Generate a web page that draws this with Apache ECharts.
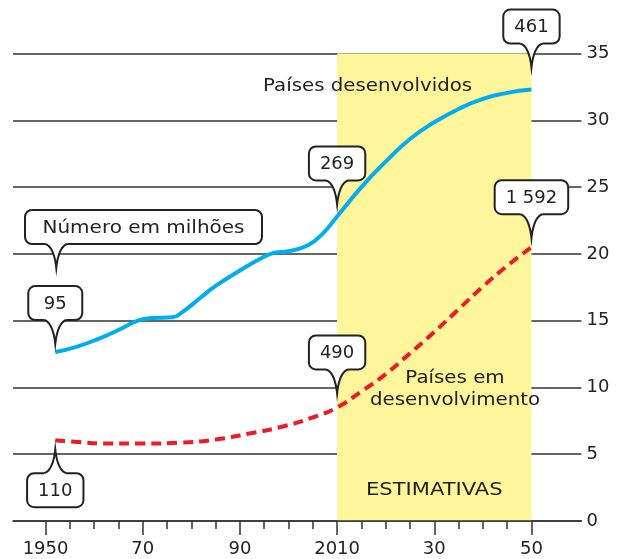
<!DOCTYPE html>
<html>
<head>
<meta charset="utf-8">
<script src="https://cdn.jsdelivr.net/npm/echarts@6/dist/echarts.min.js"></script>
<style>
  html, body { margin: 0; padding: 0; background: #fff; }
  #chart { width: 626px; height: 559px; }
</style>
</head>
<body>
<div id="chart"></div>
<script>
// Population (millions, scaled axis) — developed vs developing countries
const developedYears  = [1952, 1956, 1961, 1965, 1969, 1972, 1976, 1978, 1982, 1985, 1990, 1994, 1997, 2000, 2004, 2007, 2010, 2015, 2020, 2025, 2030, 2035, 2040, 2045, 2050];
const developedValues = [12.65, 13.0, 13.65, 14.3, 15.0, 15.2, 15.25, 15.6, 16.75, 17.6, 18.75, 19.6, 20.07, 20.2, 20.65, 21.5, 22.8, 25.0, 26.9, 28.6, 29.85, 30.85, 31.6, 32.05, 32.3];

const developingYears  = [1952, 1956, 1963, 1970, 1978, 1985, 1992, 1998, 2005, 2010, 2015, 2020, 2025, 2030, 2035, 2040, 2045, 2050];
const developingValues = [6.05, 5.93, 5.8, 5.8, 5.87, 6.1, 6.55, 7.0, 7.75, 8.5, 9.7, 11.0, 12.55, 14.15, 15.85, 17.55, 19.1, 20.5];

// Callout values (millions) at the marked years
const calloutYears       = [1952, 2010, 2050];
const developedCallouts  = ['95', '269', '461'];
const developingCallouts = ['110', '490', '1 592'];

// Axis ticks and labels
const minorYears      = [1950, 1955, 1960, 1965, 1970, 1975, 1980, 1985, 1990, 1995, 2000, 2005, 2010, 2015, 2020, 2025, 2030, 2035, 2040, 2045, 2050];
const majorYears      = [1950, 1970, 1990, 2010, 2030, 2050];
const majorYearLabels = ['1950', '70', '90', '2010', '30', '50'];

// Estimate period
const estimateStart = 2010;
const estimateEnd   = 2050;

const FONT = '"DejaVu Sans", Verdana, sans-serif';
const INK = '#222';

const pair = (xs, ys) => xs.map((x, i) => [x, ys[i]]);

const chart = echarts.init(document.getElementById('chart'), null, { renderer: 'canvas' });

const X_MIN = 1943.3, X_MAX = 2060.3;

chart.setOption({
  animation: false,
  grid: { left: 13, right: 44.5, top: 53.5, bottom: 38 },
  xAxis: [
    {
      type: 'value', min: X_MIN, max: X_MAX, position: 'bottom', z: 4,
      axisLine: { show: true, lineStyle: { color: '#333', width: 1.5 } },
      axisTick: { show: true, length: 14, customValues: majorYears, lineStyle: { color: '#333', width: 1.5 } },
      axisLabel: {
        show: true, customValues: majorYears, margin: 19,
        fontFamily: FONT, fontSize: 18, color: INK,
        formatter: v => majorYearLabels[majorYears.indexOf(Math.round(v))] || ''
      },
      splitLine: { show: false }
    },
    {
      type: 'value', min: X_MIN, max: X_MAX, position: 'bottom', z: 4,
      axisLine: { show: false },
      axisTick: { show: true, length: 8, customValues: minorYears, lineStyle: { color: '#333', width: 1.5 } },
      axisLabel: { show: false },
      splitLine: { show: false }
    }
  ],
  yAxis: {
    type: 'value', position: 'right', min: 0, max: 35, interval: 5, z: 1,
    axisLine: { show: false },
    axisTick: { show: false },
    axisLabel: { margin: 5, fontFamily: FONT, fontSize: 18, color: INK },
    splitLine: { show: true, lineStyle: { color: '#333', width: 1.5 } }
  },
  series: [
    {
      // estimate band
      type: 'line', data: [], z: 0, silent: true,
      markArea: {
        silent: true,
        itemStyle: { color: '#fff59b' },
        data: [[{ xAxis: estimateStart, yAxis: 0 }, { xAxis: estimateEnd, yAxis: 35 }]]
      }
    },
    {
      name: 'Países em desenvolvimento', type: 'line', z: 3,
      data: pair(developingYears, developingValues),
      smooth: true, showSymbol: false,
      lineStyle: { color: '#ec1c24', width: 4, type: [10, 6] }
    },
    {
      name: 'Países desenvolvidos', type: 'line', z: 3,
      data: pair(developedYears, developedValues),
      smooth: true, showSymbol: false,
      lineStyle: { color: '#00aeef', width: 4 }
    }
  ]
});

// ---- callout bubbles ----
const measure = (() => {
  const ctx = document.createElement('canvas').getContext('2d');
  ctx.font = '18px ' + FONT;
  return t => ctx.measureText(t).width;
})();

function bezierPoints(p0, p1, p2, p3, n) {
  const pts = [];
  for (let i = 0; i <= n; i++) {
    const t = i / n, u = 1 - t;
    pts.push([
      u*u*u*p0[0] + 3*u*u*t*p1[0] + 3*u*t*t*p2[0] + t*t*t*p3[0],
      u*u*u*p0[1] + 3*u*u*t*p1[1] + 3*u*t*t*p2[1] + t*t*t*p3[1]
    ]);
  }
  return pts;
}

// tip: pointer tip; dir: +1 pointer points down (box above), -1 points up (box below)
function bubble(text, tipX, tipY, dir, opts) {
  opts = opts || {};
  const sx = opts.scaleX || 1;
  const w = opts.width || Math.max(measure(text) * sx + 22, 54);
  const h = 34, ptrH = 24, half = 11;
  const cx = opts.boxCx == null ? tipX : opts.boxCx;
  const base = tipY - dir * ptrH;
  const top = dir > 0 ? base - h : base;
  const left = bezierPoints([tipX - half, base], [tipX - 4, base + dir * 2], [tipX - 1, tipY - dir * 10], [tipX, tipY], 12);
  const right = bezierPoints([tipX, tipY], [tipX + 1, tipY - dir * 10], [tipX + 4, base + dir * 2], [tipX + half, base], 12);
  const outline = left.concat(right.slice(1));
  return [
    { type: 'rect', z: 100, shape: { x: cx - w / 2, y: top, width: w, height: h, r: 7 },
      style: { fill: '#fff', stroke: INK, lineWidth: 2 } },
    { type: 'polygon', z: 101, shape: { points: outline.concat([[tipX + half, base - dir * 2], [tipX - half, base - dir * 2]]) },
      style: { fill: '#fff', stroke: null } },
    { type: 'polyline', z: 102, shape: { points: outline },
      style: { stroke: INK, lineWidth: 2, fill: null } },
    { type: 'text', z: 103, x: cx, y: top + h / 2 + 1, scaleX: sx,
      style: { text: text, font: '18px ' + FONT, fill: INK, align: 'center', verticalAlign: 'middle',
               textAlign: 'center', textVerticalAlign: 'middle' } }
  ];
}

const toPx = (x, y) => chart.convertToPixel({ xAxisIndex: 0, yAxisIndex: 0 }, [x, y]);
const valueAt = (years, values, yr) => values[years.indexOf(yr)];

const developedTipOffset  = [-8, -12, -22];
const developingTipOffset = [9, -14, -9];

let elements = [];
calloutYears.forEach((yr, i) => {
  const p = toPx(yr, valueAt(developedYears, developedValues, yr));
  elements = elements.concat(bubble(developedCallouts[i], p[0], p[1] + developedTipOffset[i], 1));
  const q = toPx(yr, valueAt(developingYears, developingValues, yr));
  const dir = developingTipOffset[i] > 0 ? -1 : 1;
  elements = elements.concat(bubble(developingCallouts[i], q[0], q[1] + developingTipOffset[i], dir));
});

// unit note
const unitLabel = 'Número em milhões';
const unitTip = toPx(1952, 0);
elements = elements.concat(bubble(unitLabel, unitTip[0] + 1, 268, 1, { boxCx: 143.5, width: 237, scaleX: 1.11 }));

// series names and band title
const band = [toPx(estimateStart, 0), toPx(estimateEnd, 0)];
const label = (t, x, y, align, sx) => ({
  type: 'text', z: 50, x: x, y: y, scaleX: sx,
  style: { text: t, font: '18px ' + FONT, fill: INK, align: align, verticalAlign: 'middle',
           textAlign: align, textVerticalAlign: 'middle' }
});
elements.push(label('Países desenvolvidos', 263, 86, 'left', 1.1));
elements.push(label('Países em', 455, 378, 'center', 1.1));
elements.push(label('desenvolvimento', 455, 400, 'center', 1.1));
elements.push(label('ESTIMATIVAS', (band[0][0] + band[1][0]) / 2, 490, 'center', 1.17));

chart.setOption({ graphic: { elements: elements } });
</script>
</body>
</html>
